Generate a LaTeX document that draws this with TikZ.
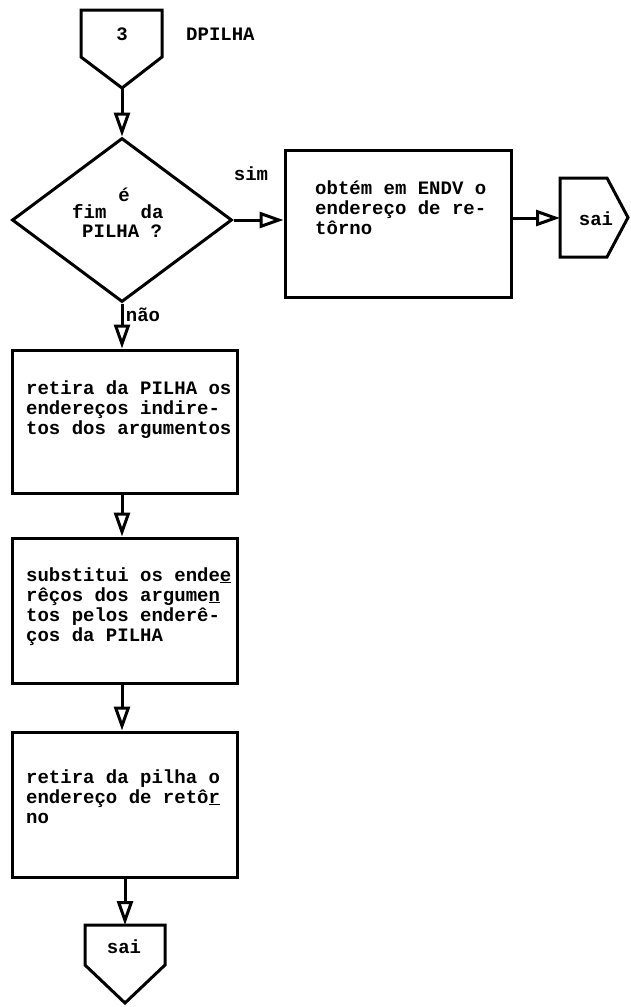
\documentclass[tikz,border=0pt]{standalone}
\usepackage{fontspec}
\setmonofont{Liberation Mono}
\usetikzlibrary{arrows.meta,shapes.geometric}
\tikzset{
  tw/.style={font=\ttfamily\bfseries\fontsize{19}{20}\selectfont},
  box/.style={draw, line width=3pt, rectangle, inner sep=0pt},
  txt/.style={tw, align=left, anchor=base west, inner sep=0pt},
  lbl/.style={tw, inner sep=0pt},
  shp/.style={draw, line width=3pt, line join=miter},
  flow/.style={line width=3pt, -{Triangle[open, length=24pt, width=16pt]}},
}
\begin{document}
\begin{tikzpicture}[x=1pt, y=-1pt]
\useasboundingbox (0,0) rectangle (630,1007);
% top off-page connector
\draw[shp] (81,10) -- (162,10) -- (162,57) -- (122,88) -- (81,57) -- cycle;
\coordinate (p3tip) at (122,88);
\node[lbl] (n3) at (122,34) {3};
\node[lbl, anchor=west] (dp) at (186,34) {DPILHA};
% decision
\node[diamond, shp, minimum width=220pt, minimum height=164pt, inner sep=0pt] (dec) at (122,220) {};
\node[lbl] (de) at (124,195) {é};
\node[txt] (df) at (72,218) {fim~~~da};
\node[txt] (dp2) at (82,237) {PILHA ?};
\node[lbl] (sim) at (251,174) {sim};
\node[lbl] (nao) at (143,315) {não};
% box 1 (right)
\node[box, minimum width=226pt, minimum height=147pt] (b1) at (398,223.5) {};
\node[txt] (t1) at (315,234) {obtém em ENDV o\\endereço de re-\\tôrno};
% right exit
\draw[shp] (560,178) -- (607,178) -- (628,217.5) -- (607,257) -- (560,257) -- cycle;
\coordinate (rsai) at (560,218);
\node[lbl] (rs) at (596,219) {sai};
% box 2
\node[box, minimum width=225pt, minimum height=143pt] (b2) at (124.5,421.5) {};
\node[txt] (t2) at (26,434) {retira da PILHA os\\endereços indire-\\tos dos argumentos};
% box 3
\node[box, minimum width=225pt, minimum height=145pt] (b3) at (124.5,610.5) {};
\node[txt] (t3) at (26,641) {substitui os ende\underline{e}\\rêços dos argume\underline{n}\\tos pelos enderê-\\ços da PILHA};
% box 4
\node[box, minimum width=225pt, minimum height=145pt] (b4) at (124.5,804.5) {};
\node[txt] (t4) at (26,823) {retira da pilha o\\endereço de retô\underline{r}\\no};
% bottom exit
\draw[shp] (85,925) -- (165,925) -- (165,965) -- (125,1003) -- (85,965) -- cycle;
\coordinate (bsai) at (125,925);
\node[lbl] (bs) at (124,947) {sai};
% connectors
\draw[flow] (p3tip) -- (dec.north);
\draw[flow] (dec.east) -- (dec.east -| b1.west);
\draw[flow] (b1.east |- rsai) -- (rsai);
\draw[flow] (dec.south) -- (dec.south |- b2.north);
\draw[flow] (b2.south -| dec.south) -- (b3.north -| dec.south);
\draw[flow] (b3.south -| dec.south) -- (b4.north -| dec.south);
\draw[flow] (b4.south -| bsai) -- (bsai);
\end{tikzpicture}
\end{document}
